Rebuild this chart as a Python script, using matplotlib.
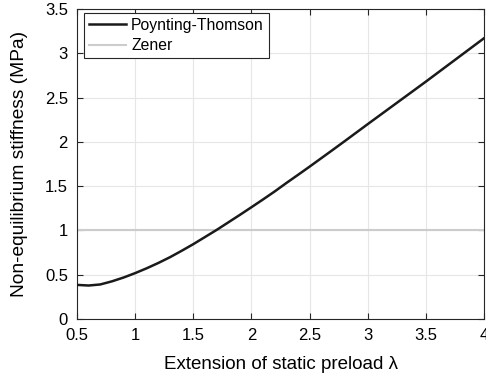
import matplotlib.pyplot as plt
import numpy as np

plt.rcParams['font.family'] = ['Liberation Sans', 'DejaVu Sans']

# valores
lam = [0.5, 0.6, 0.7, 0.8, 0.9, 1.0, 1.1, 1.2, 1.3, 1.4, 1.5, 1.6, 1.7, 1.8, 1.9, 2.0,
       2.1, 2.2, 2.3, 2.4, 2.5, 2.6, 2.7, 2.8, 2.9, 3.0, 3.1, 3.2, 3.3, 3.4, 3.5,
       3.6, 3.7, 3.8, 3.9, 4.0]
poynting = [0.385, 0.378, 0.39, 0.425, 0.468, 0.518, 0.573, 0.633, 0.698, 0.77, 0.845,
            0.925, 1.005, 1.09, 1.175, 1.262, 1.35, 1.44, 1.535, 1.627, 1.72, 1.815,
            1.91, 2.006, 2.103, 2.20, 2.296, 2.392, 2.488, 2.584, 2.68, 2.778, 2.876,
            2.974, 3.072, 3.17]
zener_x = [0.5, 4.0]
zener = [1.0, 1.0]

fig = plt.figure(figsize=(4.86, 3.80), dpi=100)
ax = fig.add_axes([77/486, 1 - 319/380, (484-77)/486, (319-9)/380])

ax.plot(zener_x, zener, color='#cccccc', lw=1.5, label='Zener', zorder=2)
ax.plot(lam, poynting, color='#1a1a1a', lw=1.8, label='Poynting-Thomson', zorder=3)

ax.set_xlim(0.5, 4)
ax.set_ylim(0, 3.5)
ax.set_xticks(np.arange(0.5, 4.01, 0.5))
ax.set_yticks(np.arange(0, 3.51, 0.5))
ax.set_xticklabels(['0.5', '1', '1.5', '2', '2.5', '3', '3.5', '4'])
ax.set_yticklabels(['0', '0.5', '1', '1.5', '2', '2.5', '3', '3.5'])
ax.grid(True, color='#e6e6e6', lw=0.8)
ax.set_axisbelow(True)
ax.tick_params(direction='in', labelsize=12, length=4, color='#262626', top=True, right=True,
               labeltop=False, labelright=False, pad=6.5)
for s in ax.spines.values():
    s.set_color('#262626')
    s.set_linewidth(0.8)

ax.set_xlabel('Extension of static preload λ', fontsize=13.5, labelpad=9)
ax.set_ylabel('Non-equilibrium stiffness (MPa)', fontsize=13.8, labelpad=12)

h, l = ax.get_legend_handles_labels()
leg = ax.legend(h[::-1], l[::-1], loc='upper left', bbox_to_anchor=(84/486, 1 - 13/380),
                bbox_transform=fig.transFigure, fontsize=11.3, fancybox=False, framealpha=1,
                edgecolor='#262626', borderaxespad=0, handlelength=2.4, handletextpad=0.3,
                borderpad=0.3, labelspacing=0.35)
leg.get_frame().set_linewidth(0.8)

fig.savefig('out.png', dpi=100)
